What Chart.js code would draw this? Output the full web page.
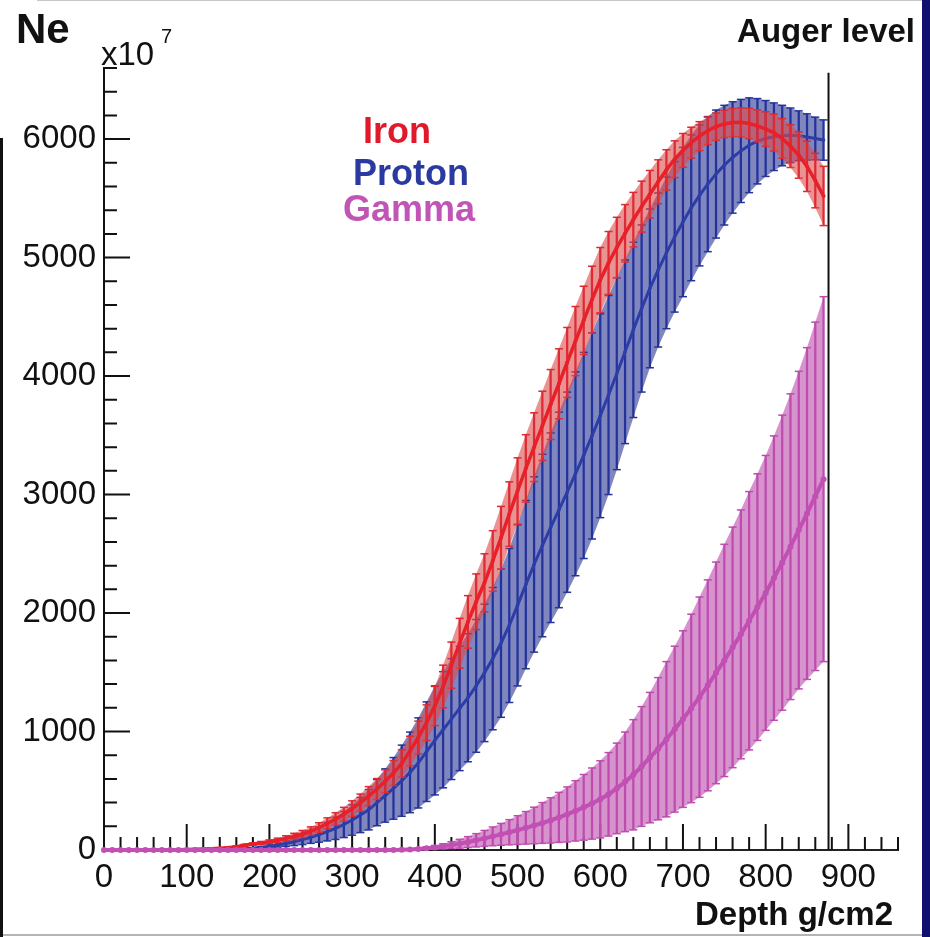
<!DOCTYPE html>
<html>
<head>
<meta charset="utf-8">
<title>Ne vs depth</title>
<script src="https://cdn.jsdelivr.net/npm/chart.js@4.4.1/dist/chart.umd.min.js"></script>
<style>
  html, body { margin: 0; padding: 0; background: #fff; }
  #wrap { position: relative; width: 930px; height: 937px; overflow: hidden; }
  canvas { position: absolute; left: 0; top: 0; }
  .edge { position: absolute; }
</style>
</head>
<body>
<div id="wrap">
  <canvas id="chart" width="930" height="937"></canvas>
  <div class="edge" style="left:37px;top:0;width:885px;height:1px;background:#c8c8c8"></div>
  <div class="edge" style="left:922px;top:0;width:8px;height:937px;background:#10106e"></div>
  <div class="edge" style="left:0;top:138px;width:3px;height:799px;background:#111"></div>
  <div class="edge" style="left:3px;top:934px;width:919px;height:2px;background:#b4b4b4"></div>
</div>
<script>
// Depth bins (g/cm2)
const depth = [0,10,20,30,40,50,60,70,80,90,100,110,120,130,140,150,160,170,180,190,
  200,210,220,230,240,250,260,270,280,290,300,310,320,330,340,350,360,370,380,390,
  400,410,420,430,440,450,460,470,480,490,500,510,520,530,540,550,560,570,580,590,
  600,610,620,630,640,650,660,670,680,690,700,710,720,730,740,750,760,770,780,790,
  800,810,820,830,840,850,860,870];

// Ne (x10^7) per primary, with half-width of the error bars
const ironNe = [0,0,0,0,0,0,1,1,2,3, 4,6,8,11,15,20,28,40,50,60,
  70,82,98,115,135,160,190,225,262,302, 350,400,455,515,580,650,730,835,950,1075,
  1215,1380,1560,1745,1925,2095,2255,2440,2635,2835, 3030,3220,3400,3580,3760,3935,4115,4295,4470,4645,
  4810,4955,5085,5205,5320,5430,5535,5640,5740,5830, 5905,5970,6025,6070,6105,6128,6140,6142,6132,6112,
  6085,6055,6005,5940,5865,5770,5650,5520];
const ironErr = [0,0,0,0,0,0,0,0,0,0, 0,1,2,2,3,4,6,8,10,12,
  15,18,22,26,30,35,40,46,52,58, 65,72,80,88,96,105,115,125,138,150,
  165,180,195,210,222,235,245,255,265,272, 280,285,290,292,295,295,295,292,288,282,
  275,265,255,242,230,215,200,185,170,155, 142,130,122,116,115,115,118,122,128,135,
  145,155,167,180,195,212,230,250];

const protonNe = [0,0,0,0,0,0,0,0,0,0, 0,0,0,0,0,0,5,10,15,22,
  30,42,55,70,88,108,130,155,183,215, 253,295,340,400,460,520,585,655,735,830,
  925,1015,1105,1195,1285,1385,1495,1615,1745,1895, 2065,2240,2410,2570,2720,2870,3020,3175,3330,3495,
  3665,3840,4020,4205,4390,4570,4740,4895,5040,5175, 5300,5420,5525,5620,5705,5780,5845,5900,5948,5982,
  6005,6020,6030,6032,6028,6018,6005,5992];
const protonErr = [0,0,0,0,0,0,0,0,0,0, 0,0,0,0,0,0,2,4,6,9,
  13,18,25,33,42,52,64,78,94,110, 128,148,170,195,225,260,300,340,380,420,
  460,490,510,525,540,560,580,600,625,650, 680,710,740,770,800,825,845,860,870,870,
  860,840,810,775,740,705,670,650,640,635, 630,615,595,570,540,505,470,435,400,360,
  320,285,255,230,210,195,180,170];

const gammaNe = [0,0,0,0,0,0,0,0,0,0, 0,0,0,0,0,0,0,0,0,0,
  0,0,0,0,0,0,0,0,0,0, 0,0,0,0,0,0,2,5,9,15,
  22,31,41,53,67,82,98,115,132,150, 168,187,207,228,250,275,300,330,360,392,
  428,470,520,575,635,705,780,855,935,1020, 1105,1195,1290,1390,1495,1600,1710,1820,1935,2050,
  2170,2295,2425,2560,2700,2840,2985,3130];
const gammaErr = [0,0,0,0,0,0,0,0,0,0, 0,0,0,0,0,0,0,0,0,0,
  0,0,0,0,0,0,0,0,0,0, 0,0,0,0,0,0,2,4,7,11,
  16,22,29,37,46,56,67,79,92,106, 121,137,154,172,191,211,232,254,277,300,
  325,352,382,420,465,505,550,600,655,700, 745,795,845,890,935,980,1015,1050,1090,1125,
  1160,1200,1245,1290,1340,1400,1470,1540];

// Axis setup
const xLabels = [0,100,200,300,400,500,600,700,800,900];
const yLabels = [0,1000,2000,3000,4000,5000,6000];
const xMax = 960;
const yMax = 6600;
const augerDepth = 876;
const augerTop = 6560;

const fontFamily = "'Liberation Sans', Arial, Helvetica, sans-serif";

// Colours
const colIron = { line: '#e8202a', bar: '#de2a32', band: 'rgba(220,75,75,0.6)', text: '#e01a2a', width: 3.5, dot: 2 };
const colProton = { line: '#2c3da8', bar: '#24339c', band: 'rgba(50,60,150,0.62)', text: '#2a3aa0', width: 3, dot: 1.8 };
const colGamma = { line: '#c24fb3', bar: '#bd4cae', band: 'rgba(190,80,175,0.62)', text: '#c055b5', width: 4, dot: 3 };

function centre(vals) {
    return depth.map((d, i) => ({ x: d, y: vals[i] }));
}

function edge(vals, errs, sign) {
    return depth.map((d, i) => ({ x: d, y: vals[i] + sign * errs[i] }));
}

function spans(vals, errs) {
    return depth.map((d, i) => ({ x: d, y: [vals[i] - errs[i], vals[i] + errs[i]] }));
}

// One primary = band (upper edge filled to lower edge, both with caps), error bars, centre line
function seriesSets(vals, errs, c, order) {
    return [
        {
            type: 'line', data: edge(vals, errs, 1), borderColor: 'transparent', backgroundColor: c.band,
            fill: '+1', tension: 0, pointStyle: 'line', pointRadius: 4, pointBorderColor: c.bar,
            pointBorderWidth: 1.5, order: order + 3
        },
        {
            type: 'line', data: edge(vals, errs, -1), borderColor: 'transparent', fill: false, tension: 0,
            pointStyle: 'line', pointRadius: 4, pointBorderColor: c.bar, pointBorderWidth: 1.5, order: order + 3
        },
        {
            type: 'bar', data: spans(vals, errs), backgroundColor: c.bar, barThickness: 1.6,
            grouped: false, order: order + 2
        },
        {
            type: 'line', data: centre(vals), borderColor: c.line, borderWidth: c.width, tension: 0,
            pointRadius: c.dot, pointBackgroundColor: c.line, pointBorderWidth: 0, clip: false, order: order + 1
        }
    ];
}

// ROOT style ticks drawn inside the frame
const rootTicks = {
    id: 'rootTicks',
    beforeDatasetsDraw(chart) {
        const { ctx, chartArea: a, scales: { x, y } } = chart;
        ctx.save();
        ctx.strokeStyle = '#111';
        ctx.lineWidth = 2;
        ctx.beginPath();
        for (let v = 0; v <= yMax; v += 200) {
            const py = y.getPixelForValue(v);
            const len = v % 1000 === 0 ? 26 : 13;
            ctx.moveTo(a.left, py);
            ctx.lineTo(a.left + len, py);
        }
        for (let d = 0; d <= xMax; d += 20) {
            const px = x.getPixelForValue(d);
            const len = d % 100 === 0 ? 26 : 13;
            ctx.moveTo(px, a.bottom);
            ctx.lineTo(px, a.bottom - len);
        }
        ctx.stroke();
        ctx.restore();
    }
};

// Titles, exponent and the coloured legend
const annotations = {
    id: 'annotations',
    afterDraw(chart) {
        const ctx = chart.ctx;
        ctx.save();
        ctx.textBaseline = 'alphabetic';
        ctx.fillStyle = '#111';

        ctx.textAlign = 'left';
        ctx.font = `bold 42px ${fontFamily}`;
        ctx.fillText('Ne', 16, 43);

        ctx.font = `33px ${fontFamily}`;
        ctx.fillText('x10', 101, 65);
        ctx.font = `20px ${fontFamily}`;
        ctx.fillText('7', 161, 43);

        ctx.textAlign = 'right';
        ctx.font = `bold 33px ${fontFamily}`;
        ctx.fillText('Auger level', 915, 42);
        ctx.fillText('Depth g/cm2', 893, 925);

        ctx.textAlign = 'left';
        ctx.font = `bold 36px ${fontFamily}`;
        ctx.fillStyle = colIron.text;
        ctx.fillText('Iron', 363, 143);
        ctx.fillStyle = colProton.text;
        ctx.fillText('Proton', 353, 185);
        ctx.fillStyle = colGamma.text;
        ctx.fillText('Gamma', 343, 221);
        ctx.restore();
    }
};

const datasets = [
    ...seriesSets(protonNe, protonErr, colProton, 30),
    ...seriesSets(ironNe, ironErr, colIron, 20),
    ...seriesSets(gammaNe, gammaErr, colGamma, 10),
    {
        type: 'line', data: [{ x: augerDepth, y: 0 }, { x: augerDepth, y: augerTop }],
        borderColor: '#111', borderWidth: 2, pointRadius: 0, fill: false, order: 0
    }
];

new Chart(document.getElementById('chart'), {
    type: 'line',
    data: { datasets: datasets },
    options: {
        responsive: false,
        animation: false,
        devicePixelRatio: 1,
        events: [],
        layout: { padding: { top: 68, right: 32, left: 0, bottom: 0 } },
        plugins: { legend: { display: false }, tooltip: { enabled: false } },
        scales: {
            x: {
                type: 'linear', min: 0, max: xMax, offset: false,
                ticks: {
                    autoSkip: false, maxRotation: 0, padding: 8, color: '#111',
                    font: { family: fontFamily, size: 33 },
                    callback: v => String(v)
                },
                afterBuildTicks: s => { s.ticks = xLabels.map(v => ({ value: v })); },
                grid: { display: false, drawTicks: false },
                border: { display: true, color: '#222', width: 2 },
                afterFit: s => { s.height = 87; }
            },
            y: {
                type: 'linear', min: 0, max: yMax,
                ticks: {
                    autoSkip: false, padding: 8, color: '#111',
                    font: { family: fontFamily, size: 33 },
                    callback: v => String(v)
                },
                afterBuildTicks: s => { s.ticks = yLabels.map(v => ({ value: v })); },
                grid: { display: false, drawTicks: false },
                border: { display: true, color: '#111', width: 2 },
                afterFit: s => { s.width = 104; }
            }
        }
    },
    plugins: [rootTicks, annotations]
});
</script>
</body>
</html>
